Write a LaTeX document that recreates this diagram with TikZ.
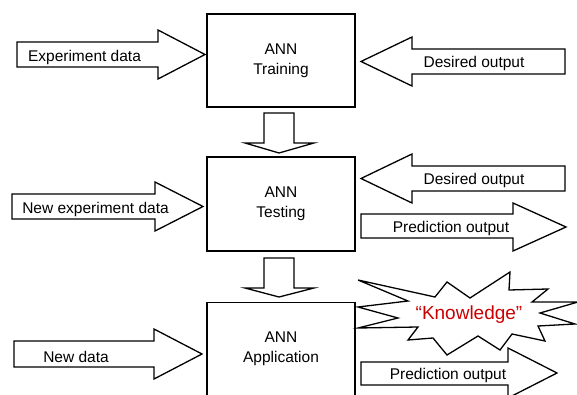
\documentclass[tikz,border=0pt]{standalone}
\usepackage{fontspec}
\setmainfont{Liberation Sans}
\definecolor{knowred}{RGB}{204,0,0}
\begin{document}
\begin{tikzpicture}[x=1pt,y=-1pt,
  outl/.style={draw=black, fill=white, line width=1.3pt, line join=miter},
  box/.style={outl, minimum width=148pt, minimum height=93pt, inner sep=0pt,
    align=center, font=\fontsize{15.5}{20}\selectfont},
  lbl/.style={font=\fontsize{15.5}{18}\selectfont, inner sep=0pt, anchor=center, yshift=-1.5pt},
  know/.style={font=\fontsize{19}{22}\selectfont, inner sep=0pt, text=knowred, yshift=-1.5pt}]
\path[use as bounding box] (0,0) rectangle (577,395);
\clip (0,0) rectangle (577,395);
% boxes
\node[box] (train) at (281,60.5) {\raisebox{-2pt}{ANN}\\\raisebox{-2pt}{Training}};
\node[box, minimum height=94pt] (test) at (281,204) {\raisebox{-2pt}{ANN}\\\raisebox{-2pt}{Testing}};
\node[box] (app) at (281,349) {\raisebox{-2pt}{ANN}\\\raisebox{-2pt}{Application}};
% down arrows
\draw[outl] (264,113) -- (294,113) -- (294,143) -- (314,143) -- (279,153) -- (245,143) -- (264,143) -- cycle;
\draw[outl] (264,258) -- (294,258) -- (294,288) -- (314,288) -- (279,297) -- (245,288) -- (264,288) -- cycle;
% experiment data
\draw[outl] (17,42) -- (158,42) -- (158,30) -- (205,54.5) -- (158,79) -- (158,67) -- (17,67) -- cycle;
\node[lbl] (expd) at (84.5,56) {Experiment data};
% desired output 1
\draw[outl] (565,49) -- (412,49) -- (412,37) -- (361,61.5) -- (412,86) -- (412,74) -- (565,74) -- cycle;
\node[lbl] (des1) at (474,62) {Desired output};
% new experiment data
\draw[outl] (12,194) -- (155,194) -- (155,182) -- (203,206.5) -- (155,231) -- (155,219) -- (12,219) -- cycle;
\node[lbl] (nexp) at (95.5,208) {New experiment data};
% desired output 2
\draw[outl] (565,166) -- (412,166) -- (412,154) -- (361,178.5) -- (412,203) -- (412,191) -- (565,191) -- cycle;
\node[lbl] (des2) at (474,179) {Desired output};
% prediction output 1
\draw[outl] (361,214) -- (513,214) -- (513,203) -- (566,227) -- (513,251) -- (513,238) -- (361,238) -- cycle;
\node[lbl] (pred1) at (451,227) {Prediction output};
% new data
\draw[outl] (14,341) -- (154,341) -- (154,329) -- (202,354) -- (154,379) -- (154,367) -- (14,367) -- cycle;
\node[lbl] (newd) at (76,355) {New data};
% knowledge star
\draw[outl] (358,280) -- (435,297) -- (447,282) -- (470,298) -- (510,272) -- (509,290)
  -- (548,289) -- (532,302) -- (578,302) -- (540,313) -- (575,324) -- (538,326)
  -- (545,341) -- (512,334) -- (500,350) -- (478,336) -- (447,355) -- (433,338)
  -- (408,340) -- (418,327) -- (358,328) -- (398,318) -- (358,307) -- (408,301) -- cycle;
\node[know] (knw) at (469,313) {“Knowledge”};
% prediction output 2
\draw[outl] (361,362) -- (508,362) -- (508,348) -- (557,373) -- (508,398) -- (508,385) -- (361,385) -- cycle;
\node[lbl] (pred2) at (448,374) {Prediction output};
\end{tikzpicture}
\end{document}
